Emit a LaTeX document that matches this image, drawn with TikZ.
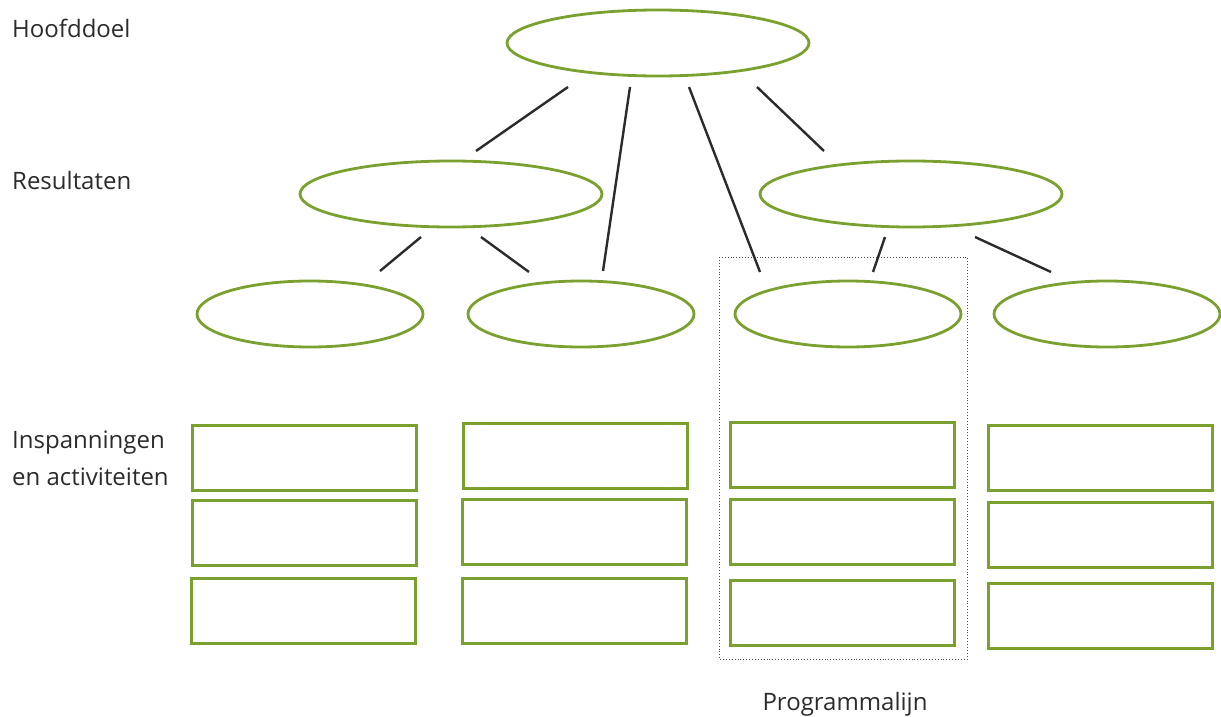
\documentclass[tikz,border=0pt]{standalone}
\usepackage{fontspec}
\setmainfont{Open Sans}
\usetikzlibrary{shapes.geometric}
\definecolor{leaf}{HTML}{7AA12F}
\definecolor{ink}{HTML}{2B2B2B}
\tikzset{
  goal/.style={draw=leaf, line width=2.8pt, ellipse, inner sep=0pt,
    minimum width=302pt, minimum height=66pt},
  result/.style={goal},
  line/.style={ellipse, draw=leaf, line width=2.8pt, inner sep=0pt,
    minimum width=226pt, minimum height=66pt},
  effort/.style={rectangle, draw=leaf, line width=3pt, inner sep=0pt,
    minimum width=224pt, minimum height=65pt},
  conn/.style={draw=ink, line width=2.4pt},
  label/.style={text=ink, inner sep=0pt, font=\fontsize{24}{30}\selectfont},
  frame/.style={draw=black!70, dotted, line width=0.9pt}
}
\begin{document}
\begin{tikzpicture}[x=1pt, y=-1pt]
\useasboundingbox (0,0) rectangle (1221,717);

% programme line frame
\draw[frame] (719,257) rectangle (967,659);

% goal, results, programme lines
\node[goal]   (top)  at (658,43)  {};
\node[result] (res1) at (451,194) {};
\node[result] (res2) at (911,194) {};
\node[line]   (b1)   at (310,314) {};
\node[line]   (b2)   at (581,314) {};
\node[line]   (b3)   at (848,314) {};
\node[line]   (b4)   at (1107,314) {};

% efforts and activities
\node[effort] (e11) at (304,458) {};
\node[effort] (e12) at (304,533) {};
\node[effort] (e13) at (303,611) {};
\node[effort] (e21) at (575,456) {};
\node[effort] (e22) at (574,532) {};
\node[effort] (e23) at (574,611) {};
\node[effort] (e31) at (842,455) {};
\node[effort] (e32) at (842,532) {};
\node[effort] (e33) at (842,613) {};
\node[effort] (e41) at (1100,458) {};
\node[effort] (e42) at (1100,535) {};
\node[effort] (e43) at (1100,616) {};

% connector ends, set off from the shapes
\coordinate (t1) at ([shift={(-90,44)}]top.center);
\coordinate (t2) at ([shift={(-28,44)}]top.center);
\coordinate (t3) at ([shift={(31,44)}]top.center);
\coordinate (t4) at ([shift={(99,44)}]top.center);
\coordinate (r1n) at ([shift={(25,-43)}]res1.center);
\coordinate (r1a) at ([shift={(-30,43)}]res1.center);
\coordinate (r1b) at ([shift={(30,43)}]res1.center);
\coordinate (r2n) at ([shift={(-87,-43)}]res2.center);
\coordinate (r2a) at ([shift={(-26,43)}]res2.center);
\coordinate (r2b) at ([shift={(64,43)}]res2.center);
\coordinate (b1n) at ([shift={(70,-43)}]b1.center);
\coordinate (b2a) at ([shift={(-52,-42)}]b2.center);
\coordinate (b2b) at ([shift={(22,-43)}]b2.center);
\coordinate (b3a) at ([shift={(-88,-42)}]b3.center);
\coordinate (b3b) at ([shift={(25,-42)}]b3.center);
\coordinate (b4n) at ([shift={(-56,-42)}]b4.center);

\draw[conn] (t1) -- (r1n);
\draw[conn] (t2) -- (b2b);
\draw[conn] (t3) -- (b3a);
\draw[conn] (t4) -- (r2n);
\draw[conn] (r1a) -- (b1n);
\draw[conn] (r1b) -- (b2a);
\draw[conn] (r2a) -- (b3b);
\draw[conn] (r2b) -- (b4n);

% level labels
\node[label, anchor=base west] (lgoal) at (12,38) {Hoofddoel};
\node[label, anchor=base west] (lres)  at (12,189) {Resultaten};
\node[label, anchor=base west] (leff1) at (12,448) {Inspanningen};
\node[label, anchor=base west] (leff2) at (12,485) {en activiteiten};
\node[label, anchor=base] (lprog) at (845,710) {Programmalijn};
\end{tikzpicture}
\end{document}
